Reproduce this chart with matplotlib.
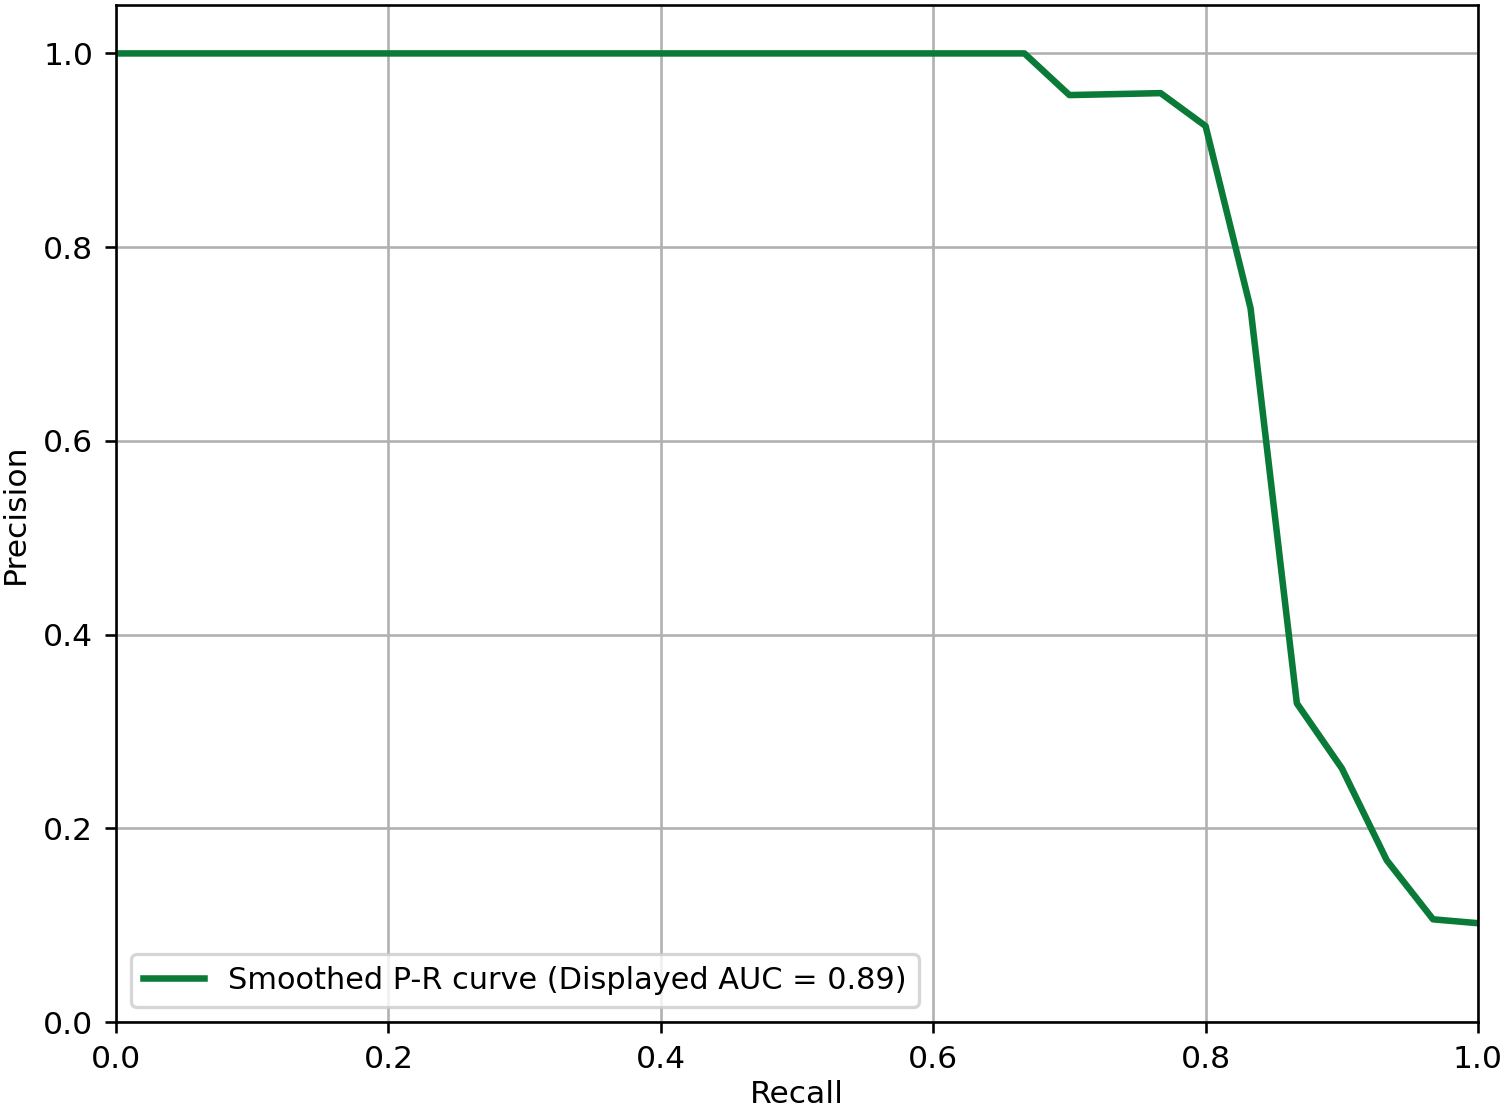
import matplotlib
matplotlib.use("Agg")
import matplotlib.pyplot as plt

# P-R curve values
recall = [0.0, 0.667, 0.700, 0.767, 0.800, 0.833, 0.867, 0.900, 0.933, 0.967, 1.0]
precision = [1.0, 1.0, 0.957, 0.959, 0.925, 0.737, 0.329, 0.262, 0.167, 0.106, 0.102]
auc_label = 'Smoothed P-R curve (Displayed AUC = 0.89)'

DPI = 235
fig = plt.figure(figsize=(1505 / DPI, 1114 / DPI), dpi=DPI)
ax = fig.add_axes([116 / 1505, 1 - 1022 / 1114, (1478 - 116) / 1505, (1022 - 5) / 1114])

ax.plot(recall, precision, color='#0a7a38', linewidth=2, label=auc_label)

ax.set_xlim(0, 1.0)
ax.set_ylim(0, 1.05)
ax.set_xticks([0.0, 0.2, 0.4, 0.6, 0.8, 1.0])
ax.set_yticks([0.0, 0.2, 0.4, 0.6, 0.8, 1.0])
ax.tick_params(labelsize=9.6)
ax.set_xlabel('Recall', fontsize=9.6, labelpad=2)
ax.set_ylabel('Precision', fontsize=9.6, labelpad=4)
ax.grid(True)
ax.legend(loc='lower left', fontsize=9.3)

fig.savefig('out.png', dpi=DPI)
